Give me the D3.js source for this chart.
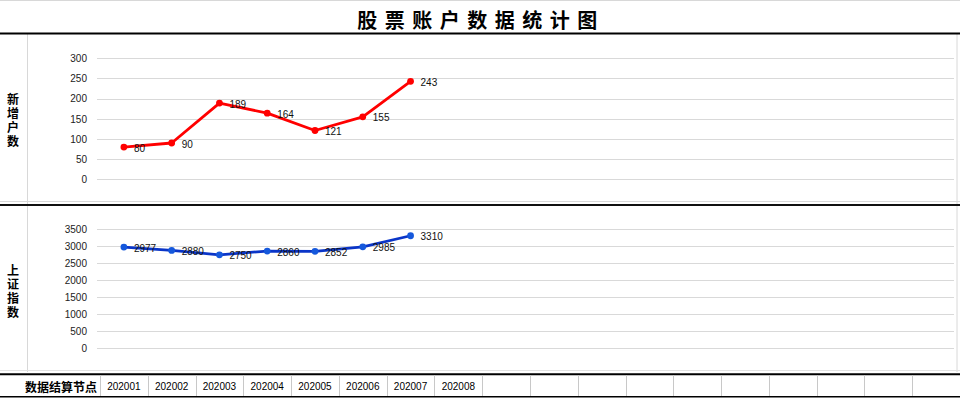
<!DOCTYPE html>
<html><head><meta charset="utf-8">
<script src="https://cdn.jsdelivr.net/npm/d3@7"></script>
<style>
html,body{margin:0;padding:0;background:#fff;}
svg{display:block;}
text{font-family:"Liberation Sans",Arial,sans-serif;}
.cjk{font-family:"Noto Sans CJK SC",sans-serif;font-weight:bold;}
</style></head>
<body>
<svg id="c" width="960" height="398"></svg>
<script>
const title = "股票账户数据统计图";
const categories = ["202001","202002","202003","202004","202005","202006","202007","202008"];
const totalCells = 18;
const newAccounts = [80, 90, 189, 164, 121, 155, 243];
const shIndex = [2977, 2880, 2750, 2860, 2852, 2985, 3310];
const topTicks = [0, 50, 100, 150, 200, 250, 300];
const bottomTicks = [0, 500, 1000, 1500, 2000, 2500, 3000, 3500];
const topLabel = "新增户数";
const bottomLabel = "上证指数";
const rowLabel = "数据结算节点";

const svg = d3.select("#c");
const W = 960, H = 398;

const x = d3.scaleBand().domain(d3.range(totalCells)).range([100, 960]).padding(0);
const cx = i => x(i) + x.bandwidth() / 2;

// borders
svg.append("line").attr("x1",0).attr("x2",W).attr("y1",0.5).attr("y2",0.5).attr("stroke","#d8d8d8");
svg.append("line").attr("x1",957).attr("x2",957).attr("y1",34).attr("y2",372).attr("stroke","#d8d8d8");
svg.append("line").attr("x1",27.5).attr("x2",27.5).attr("y1",34).attr("y2",372).attr("stroke","#d8d8d8");
svg.append("line").attr("x1",0).attr("x2",W).attr("y1",201.5).attr("y2",201.5).attr("stroke","#d8d8d8");
svg.append("line").attr("x1",0).attr("x2",W).attr("y1",370.5).attr("y2",370.5).attr("stroke","#e2e2e2");

// title
svg.append("text").attr("class","cjk").attr("x",481).attr("y",19)
  .attr("text-anchor","middle").attr("dominant-baseline","central")
  .attr("font-size",20).attr("letter-spacing",7.5).attr("fill","#000").text(title);

function panel(vals, ticks, y0, y1, color, mcolor, label, labelTop) {
  const y = d3.scaleLinear().domain([ticks[0], ticks[ticks.length-1]]).range([y0, y1]);
  const g = svg.append("g");
  const ax = d3.axisLeft(y).tickValues(ticks).tickFormat(d3.format("d")).tickSize(0).tickPadding(0);
  const axg = g.append("g").attr("transform","translate(87,0)").call(ax);
  axg.select(".domain").remove();
  axg.selectAll("text").attr("font-size",10).attr("fill","#222").attr("font-family","Liberation Sans, Arial, sans-serif").attr("dy","0.32em");
  g.selectAll(".grid").data(ticks).join("line")
    .attr("x1",97).attr("x2",954).attr("y1",d=>Math.round(y(d))+0.5).attr("y2",d=>Math.round(y(d))+0.5)
    .attr("stroke","#d9d9d9").attr("stroke-width",1);
  const line = d3.line().x((d,i)=>cx(i)).y(d=>y(d));
  g.append("path").datum(vals).attr("d",line).attr("fill","none")
    .attr("stroke",color).attr("stroke-width",2.8).attr("stroke-linejoin","round");
  g.selectAll(".pt").data(vals).join("circle")
    .attr("cx",(d,i)=>cx(i)).attr("cy",d=>y(d)).attr("r",3.4).attr("fill",mcolor);
  g.selectAll(".lbl").data(vals).join("text")
    .attr("x",(d,i)=>cx(i)+10).attr("y",d=>y(d)+1)
    .attr("dominant-baseline","central").attr("font-size",10).attr("fill","#111").text(d=>d);
  // vertical label
  svg.append("text").attr("class","cjk")
    .attr("x",13).attr("y",labelTop)
    .style("writing-mode","vertical-rl").attr("letter-spacing",2)
    .attr("font-size",12).attr("fill","#000").text(label);
}

panel(newAccounts, topTicks, 179.3, 58.3, "#ff0000", "#ff0000", topLabel, 93);
panel(shIndex, bottomTicks, 348.3, 229.3, "#0a35c8", "#1558dc", bottomLabel, 264);

// thick separators
svg.append("line").attr("x1",0).attr("x2",W).attr("y1",33.5).attr("y2",33.5).attr("stroke","#000").attr("stroke-width",2);
svg.append("line").attr("x1",0).attr("x2",W).attr("y1",205).attr("y2",205).attr("stroke","#111").attr("stroke-width",2);
svg.append("line").attr("x1",0).attr("x2",W).attr("y1",374.3).attr("y2",374.3).attr("stroke","#000").attr("stroke-width",2);
svg.append("line").attr("x1",0).attr("x2",W).attr("y1",396.8).attr("y2",396.8).attr("stroke","#000").attr("stroke-width",1.5);

// bottom table
const cells = d3.range(totalCells);
svg.selectAll(".cellb").data(cells).join("line")
  .attr("x1",d=>Math.round(x(d))+0.5).attr("x2",d=>Math.round(x(d))+0.5)
  .attr("y1",375).attr("y2",396).attr("stroke","#c8c8c8");
svg.selectAll(".cellt").data(categories).join("text")
  .attr("x",(d,i)=>cx(i)).attr("y",386.5).attr("text-anchor","middle")
  .attr("dominant-baseline","central").attr("font-size",10).attr("fill","#000").text(d=>d);
svg.append("text").attr("class","cjk").attr("x",97).attr("y",386)
  .attr("text-anchor","end").attr("dominant-baseline","central")
  .attr("font-size",12).attr("fill","#000").text(rowLabel);
</script>
</body></html>
